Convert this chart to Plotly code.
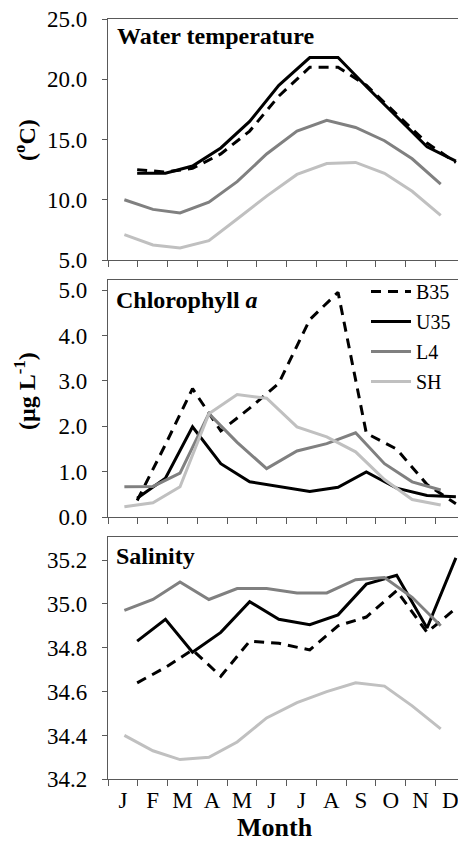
import plotly.graph_objects as go

# ---- data ----
months = ["J", "F", "M", "A", "M", "J", "J", "A", "S", "O", "N", "D"]
month_centres = [0.5, 1.5, 2.5, 3.5, 4.5, 5.5, 6.5, 7.5, 8.5, 9.5, 10.5, 11.5]

# sampling positions (in month units from 1 January)
x_offshore = [0.98, 1.93, 2.84, 3.79, 4.76, 5.74, 6.78, 7.73, 8.68, 9.70, 10.72, 11.69]  # B35, U35
x_coastal = [0.55, 1.51, 2.42, 3.39, 4.34, 5.33, 6.35, 7.35, 8.32, 9.29, 10.22, 11.18]   # L4, SH

temp_B35 = [12.5, 12.3, 12.6, 13.8, 15.7, 18.6, 21.0, 21.0, 19.5, 17.1, 14.7, 13.1]
temp_U35 = [12.2, 12.2, 12.8, 14.3, 16.5, 19.5, 21.8, 21.8, 19.4, 16.9, 14.4, 13.2]
temp_L4 = [10.0, 9.2, 8.9, 9.8, 11.5, 13.8, 15.7, 16.6, 16.0, 14.9, 13.4, 11.3]
temp_SH = [7.1, 6.25, 6.0, 6.6, 8.4, 10.3, 12.1, 13.0, 13.1, 12.2, 10.7, 8.7]

chl_B35 = [0.37, 1.6, 2.83, 1.9, 2.4, 2.95, 4.35, 4.95, 1.85, 1.5, 0.72, 0.3]
chl_U35 = [0.42, 0.86, 1.99, 1.18, 0.78, 0.67, 0.57, 0.66, 1.0, 0.64, 0.48, 0.45]
chl_L4 = [0.67, 0.68, 0.97, 2.28, 1.65, 1.07, 1.46, 1.62, 1.86, 1.18, 0.78, 0.6]
chl_SH = [0.23, 0.32, 0.67, 2.28, 2.7, 2.62, 1.99, 1.77, 1.44, 0.83, 0.39, 0.27]

sal_B35 = [34.64, 34.71, 34.79, 34.67, 34.83, 34.82, 34.79, 34.90, 34.94, 35.06, 34.87, 34.98]
sal_U35 = [34.83, 34.93, 34.78, 34.87, 35.01, 34.93, 34.905, 34.95, 35.09, 35.13, 34.89, 35.21]
sal_L4 = [34.97, 35.02, 35.10, 35.02, 35.07, 35.07, 35.05, 35.05, 35.11, 35.12, 35.03, 34.90]
sal_SH = [34.40, 34.33, 34.29, 34.30, 34.37, 34.48, 34.55, 34.60, 34.64, 34.625, 34.535, 34.43]

temp_ticks = [5, 10, 15, 20, 25]
chl_ticks = [0, 1, 2, 3, 4, 5]
sal_ticks = [34.2, 34.4, 34.6, 34.8, 35.0, 35.2]

stations = [
    ("B35", x_offshore, temp_B35, chl_B35, sal_B35, "#000000", "10px,7px"),
    ("U35", x_offshore, temp_U35, chl_U35, sal_U35, "#000000", "solid"),
    ("L4", x_coastal, temp_L4, chl_L4, sal_L4, "#808080", "solid"),
    ("SH", x_coastal, temp_SH, chl_SH, sal_SH, "#c0c0c0", "solid"),
]

W, H = 458, 843
L = 108
FONT = "Liberation Serif, Times New Roman, serif"
AXC = "#595959"

fig = go.Figure()
for name, xs, t, c, s, col, dash in stations:
    line = dict(color=col, width=3, dash=dash)
    fig.add_trace(go.Scatter(x=xs, y=t, xaxis="x", yaxis="y", mode="lines", line=line,
                             name=name, legendgroup=name, showlegend=False))
    fig.add_trace(go.Scatter(x=xs, y=c, xaxis="x2", yaxis="y2", mode="lines", line=line,
                             name=name, legendgroup=name, showlegend=True))
    fig.add_trace(go.Scatter(x=xs, y=s, xaxis="x3", yaxis="y3", mode="lines", line=line,
                             name=name, legendgroup=name, showlegend=False))


def pdom(top, bottom):
    return [1 - bottom / H, 1 - top / H]


panels = [(19, 260), (280, 517.3), (537, 779.3)]
xrange_ = [0, (W - L) / 29.76]

def xaxis(anchor, labels):
    return dict(
        anchor=anchor, domain=[0, 1], range=xrange_, showgrid=False, zeroline=False,
        showline=True, linecolor=AXC, linewidth=1.2, mirror=True,
        tickmode="array", tickvals=month_centres, ticktext=months, ticks="",
        showticklabels=labels, ticklabeloverflow="allow",
        tickfont=dict(family=FONT, size=23, color="#000"),
        minor=dict(tickmode="array", tickvals=list(range(0, 12)), ticks="outside",
                   ticklen=6, tickcolor=AXC, tickwidth=1.2, showgrid=False),
    )

def yaxis(anchor, dom, rng, tv):
    return dict(
        anchor=anchor, domain=dom, range=rng, showgrid=False, zeroline=False,
        showline=True, linecolor=AXC, linewidth=1.2,
        tickmode="array", tickvals=tv, tickformat=".1f", ticks="outside", ticklen=5,
        tickcolor=AXC, tickwidth=1.2, ticklabelstandoff=10,
        tickfont=dict(family=FONT, size=23, color="#000"),
    )

fig.update_layout(
    width=W, height=H,
    margin=dict(l=L, r=0, t=0, b=0, autoexpand=False),
    paper_bgcolor="white", plot_bgcolor="white",
    font=dict(family=FONT, color="#000"),
    xaxis=xaxis("y", False),
    xaxis2=xaxis("y2", False),
    xaxis3=xaxis("y3", True),
    yaxis=yaxis("x", pdom(*panels[0]), [5, 25], temp_ticks),
    yaxis2=yaxis("x2", pdom(*panels[1]), [0, 5.22], chl_ticks),
    yaxis3=yaxis("x3", pdom(*panels[2]), [34.2, 35.305], sal_ticks),
    showlegend=True,
    legend=dict(x=(366 - L) / (W - L), y=1 - 272 / H, xanchor="left", yanchor="top",
                bgcolor="rgba(0,0,0,0)", font=dict(family=FONT, size=20, color="#000"),
                itemwidth=40, tracegroupgap=1, traceorder="grouped"),
)

def px_x(px):
    return (px - L) / (W - L)

def px_y(py):
    return 1 - py / H

ann = [
    dict(text="<b>Water temperature</b>", x=px_x(115), y=px_y(36), xanchor="left", yanchor="middle", size=24),
    dict(text="<b>Chlorophyll <i>a</i></b>", x=px_x(114), y=px_y(300), xanchor="left", yanchor="middle", size=24),
    dict(text="<b>Salinity</b>", x=px_x(114), y=px_y(556), xanchor="left", yanchor="middle", size=24),
    dict(text="<b>Month</b>", x=px_x(275), y=px_y(827), xanchor="center", yanchor="middle", size=26),
]
for a in ann:
    fig.add_annotation(text=a["text"], xref="paper", yref="paper", x=a["x"], y=a["y"],
                       xanchor=a["xanchor"], yanchor=a["yanchor"], showarrow=False,
                       font=dict(family=FONT, size=a["size"], color="#000"))

for txt, py in [("<b>(<sup>o</sup>C)</b>", 140), ("<b>(µg L<sup>-1</sup>)</b>", 391)]:
    fig.add_annotation(text=txt, xref="paper", yref="paper", x=px_x(25), y=px_y(py),
                       xanchor="center", yanchor="middle", textangle=-90, showarrow=False,
                       font=dict(family=FONT, size=24, color="#000"))

fig.write_html("out.html")
